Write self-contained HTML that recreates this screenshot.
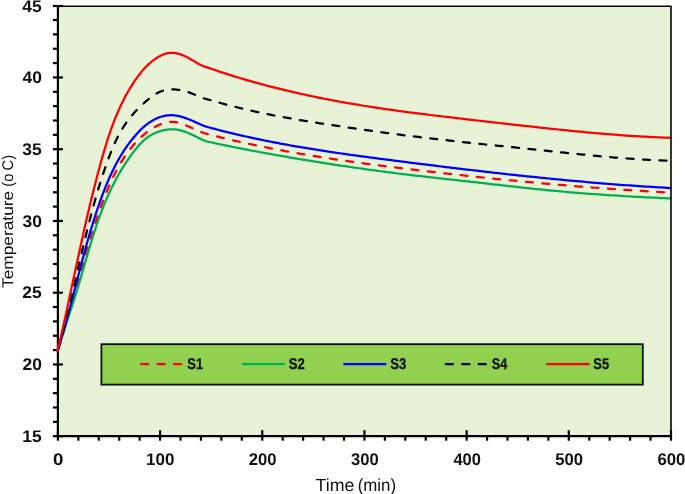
<!DOCTYPE html>
<html><head><meta charset="utf-8"><style>
html,body{margin:0;padding:0;background:#fff;}
body{width:685px;height:494px;overflow:hidden;}
svg{display:block;will-change:transform;text-rendering:geometricPrecision;font-family:"Liberation Sans",sans-serif;}
</style></head><body>
<svg width="685" height="494" viewBox="0 0 685 494">
<rect x="57.90" y="5.70" width="613.08" height="430.50" fill="#E8F2D6"/>
<line x1="57.90" y1="5.00" x2="57.90" y2="437.20" stroke="#000" stroke-width="2.2"/>
<line x1="56.90" y1="436.20" x2="671.78" y2="436.20" stroke="#000" stroke-width="2.3"/>
<line x1="52.90" y1="436.20" x2="62.90" y2="436.20" stroke="#000" stroke-width="2.2"/>
<line x1="52.90" y1="421.85" x2="57.90" y2="421.85" stroke="#000" stroke-width="2.2"/>
<line x1="52.90" y1="407.50" x2="57.90" y2="407.50" stroke="#000" stroke-width="2.2"/>
<line x1="52.90" y1="393.15" x2="57.90" y2="393.15" stroke="#000" stroke-width="2.2"/>
<line x1="52.90" y1="378.80" x2="57.90" y2="378.80" stroke="#000" stroke-width="2.2"/>
<line x1="52.90" y1="364.45" x2="62.90" y2="364.45" stroke="#000" stroke-width="2.2"/>
<line x1="52.90" y1="350.10" x2="57.90" y2="350.10" stroke="#000" stroke-width="2.2"/>
<line x1="52.90" y1="335.75" x2="57.90" y2="335.75" stroke="#000" stroke-width="2.2"/>
<line x1="52.90" y1="321.40" x2="57.90" y2="321.40" stroke="#000" stroke-width="2.2"/>
<line x1="52.90" y1="307.05" x2="57.90" y2="307.05" stroke="#000" stroke-width="2.2"/>
<line x1="52.90" y1="292.70" x2="62.90" y2="292.70" stroke="#000" stroke-width="2.2"/>
<line x1="52.90" y1="278.35" x2="57.90" y2="278.35" stroke="#000" stroke-width="2.2"/>
<line x1="52.90" y1="264.00" x2="57.90" y2="264.00" stroke="#000" stroke-width="2.2"/>
<line x1="52.90" y1="249.65" x2="57.90" y2="249.65" stroke="#000" stroke-width="2.2"/>
<line x1="52.90" y1="235.30" x2="57.90" y2="235.30" stroke="#000" stroke-width="2.2"/>
<line x1="52.90" y1="220.95" x2="62.90" y2="220.95" stroke="#000" stroke-width="2.2"/>
<line x1="52.90" y1="206.60" x2="57.90" y2="206.60" stroke="#000" stroke-width="2.2"/>
<line x1="52.90" y1="192.25" x2="57.90" y2="192.25" stroke="#000" stroke-width="2.2"/>
<line x1="52.90" y1="177.90" x2="57.90" y2="177.90" stroke="#000" stroke-width="2.2"/>
<line x1="52.90" y1="163.55" x2="57.90" y2="163.55" stroke="#000" stroke-width="2.2"/>
<line x1="52.90" y1="149.20" x2="62.90" y2="149.20" stroke="#000" stroke-width="2.2"/>
<line x1="52.90" y1="134.85" x2="57.90" y2="134.85" stroke="#000" stroke-width="2.2"/>
<line x1="52.90" y1="120.50" x2="57.90" y2="120.50" stroke="#000" stroke-width="2.2"/>
<line x1="52.90" y1="106.15" x2="57.90" y2="106.15" stroke="#000" stroke-width="2.2"/>
<line x1="52.90" y1="91.80" x2="57.90" y2="91.80" stroke="#000" stroke-width="2.2"/>
<line x1="52.90" y1="77.45" x2="62.90" y2="77.45" stroke="#000" stroke-width="2.2"/>
<line x1="52.90" y1="63.10" x2="57.90" y2="63.10" stroke="#000" stroke-width="2.2"/>
<line x1="52.90" y1="48.75" x2="57.90" y2="48.75" stroke="#000" stroke-width="2.2"/>
<line x1="52.90" y1="34.40" x2="57.90" y2="34.40" stroke="#000" stroke-width="2.2"/>
<line x1="52.90" y1="20.05" x2="57.90" y2="20.05" stroke="#000" stroke-width="2.2"/>
<line x1="52.90" y1="6.00" x2="62.90" y2="6.00" stroke="#000" stroke-width="2.2"/>
<line x1="57.90" y1="430.20" x2="57.90" y2="440.70" stroke="#000" stroke-width="2.2"/>
<line x1="78.34" y1="436.20" x2="78.34" y2="440.70" stroke="#000" stroke-width="2.2"/>
<line x1="98.77" y1="436.20" x2="98.77" y2="440.70" stroke="#000" stroke-width="2.2"/>
<line x1="119.21" y1="436.20" x2="119.21" y2="440.70" stroke="#000" stroke-width="2.2"/>
<line x1="139.64" y1="436.20" x2="139.64" y2="440.70" stroke="#000" stroke-width="2.2"/>
<line x1="160.08" y1="430.20" x2="160.08" y2="440.70" stroke="#000" stroke-width="2.2"/>
<line x1="180.52" y1="436.20" x2="180.52" y2="440.70" stroke="#000" stroke-width="2.2"/>
<line x1="200.95" y1="436.20" x2="200.95" y2="440.70" stroke="#000" stroke-width="2.2"/>
<line x1="221.39" y1="436.20" x2="221.39" y2="440.70" stroke="#000" stroke-width="2.2"/>
<line x1="241.82" y1="436.20" x2="241.82" y2="440.70" stroke="#000" stroke-width="2.2"/>
<line x1="262.26" y1="430.20" x2="262.26" y2="440.70" stroke="#000" stroke-width="2.2"/>
<line x1="282.70" y1="436.20" x2="282.70" y2="440.70" stroke="#000" stroke-width="2.2"/>
<line x1="303.13" y1="436.20" x2="303.13" y2="440.70" stroke="#000" stroke-width="2.2"/>
<line x1="323.57" y1="436.20" x2="323.57" y2="440.70" stroke="#000" stroke-width="2.2"/>
<line x1="344.00" y1="436.20" x2="344.00" y2="440.70" stroke="#000" stroke-width="2.2"/>
<line x1="364.44" y1="430.20" x2="364.44" y2="440.70" stroke="#000" stroke-width="2.2"/>
<line x1="384.88" y1="436.20" x2="384.88" y2="440.70" stroke="#000" stroke-width="2.2"/>
<line x1="405.31" y1="436.20" x2="405.31" y2="440.70" stroke="#000" stroke-width="2.2"/>
<line x1="425.75" y1="436.20" x2="425.75" y2="440.70" stroke="#000" stroke-width="2.2"/>
<line x1="446.18" y1="436.20" x2="446.18" y2="440.70" stroke="#000" stroke-width="2.2"/>
<line x1="466.62" y1="430.20" x2="466.62" y2="440.70" stroke="#000" stroke-width="2.2"/>
<line x1="487.06" y1="436.20" x2="487.06" y2="440.70" stroke="#000" stroke-width="2.2"/>
<line x1="507.49" y1="436.20" x2="507.49" y2="440.70" stroke="#000" stroke-width="2.2"/>
<line x1="527.93" y1="436.20" x2="527.93" y2="440.70" stroke="#000" stroke-width="2.2"/>
<line x1="548.36" y1="436.20" x2="548.36" y2="440.70" stroke="#000" stroke-width="2.2"/>
<line x1="568.80" y1="430.20" x2="568.80" y2="440.70" stroke="#000" stroke-width="2.2"/>
<line x1="589.24" y1="436.20" x2="589.24" y2="440.70" stroke="#000" stroke-width="2.2"/>
<line x1="609.67" y1="436.20" x2="609.67" y2="440.70" stroke="#000" stroke-width="2.2"/>
<line x1="630.11" y1="436.20" x2="630.11" y2="440.70" stroke="#000" stroke-width="2.2"/>
<line x1="650.54" y1="436.20" x2="650.54" y2="440.70" stroke="#000" stroke-width="2.2"/>
<line x1="670.98" y1="430.20" x2="670.98" y2="440.70" stroke="#000" stroke-width="2.2"/>
<path d="M57.70,350.50 58.30,348.71 58.89,346.92 59.48,345.13 60.06,343.34 60.64,341.54 61.21,339.74 61.78,337.95 62.34,336.15 62.90,334.34 63.46,332.54 64.01,330.74 64.56,328.93 65.10,327.13 65.65,325.32 66.18,323.51 66.72,321.70 67.25,319.89 67.78,318.07 68.31,316.26 68.84,314.45 69.36,312.63 69.88,310.82 70.40,309.00 70.91,307.18 71.43,305.36 71.94,303.55 72.45,301.73 72.96,299.91 73.47,298.09 73.98,296.27 74.49,294.45 74.99,292.63 75.50,290.80 76.00,288.98 76.51,287.16 77.01,285.34 77.52,283.52 78.02,281.70 78.53,279.88 79.03,278.05 79.54,276.23 80.05,274.41 80.55,272.59 81.06,270.77 81.57,268.95 82.08,267.13 82.60,265.31 83.11,263.49 83.63,261.67 84.15,259.86 84.67,258.04 85.19,256.22 85.71,254.41 86.24,252.59 86.77,250.78 87.30,248.97 87.84,247.16 88.37,245.35 88.92,243.54 89.46,241.73 90.01,239.92 90.56,238.11 91.12,236.31 91.68,234.51 92.24,232.70 92.81,230.90 93.38,229.11 93.96,227.31 94.54,225.51 95.13,223.72 95.72,221.93 96.32,220.13 96.92,218.35 97.52,216.56 98.14,214.77 98.76,212.99 99.38,211.21 100.01,209.43 100.65,207.65 101.29,205.88 101.94,204.10 102.59,202.33 103.26,200.57 103.92,198.80 104.60,197.04 105.29,195.28 105.98,193.52 106.68,191.77 107.40,190.02 108.12,188.28 108.86,186.54 109.60,184.81 110.36,183.09 111.14,181.37 111.92,179.66 112.72,177.95 113.54,176.25 114.37,174.57 115.22,172.89 116.08,171.21 116.96,169.55 117.86,167.90 118.78,166.26 119.71,164.63 120.67,163.01 121.65,161.40 122.65,159.80 123.66,158.22 124.71,156.65 125.77,155.09 126.86,153.54 127.97,152.01 129.11,150.49 130.27,148.99 131.46,147.50 132.67,146.03 133.91,144.58 135.18,143.14 136.47,141.73 137.79,140.34 139.14,138.99 140.52,137.65 141.92,136.36 143.36,135.09 144.82,133.86 146.30,132.67 147.82,131.52 149.36,130.42 150.94,129.36 152.54,128.35 154.17,127.38 155.83,126.47 157.52,125.62 159.24,124.82 160.98,124.10 162.74,123.46 164.53,122.91 166.32,122.46 168.13,122.13 169.94,121.93 171.76,121.86 173.57,121.93 175.39,122.13 177.21,122.46 179.03,122.89 180.84,123.42 182.65,124.03 184.45,124.70 186.25,125.43 188.05,126.21 189.83,127.02 191.62,127.84 193.39,128.66 195.15,129.48 196.90,130.28 198.65,131.04 200.38,131.76 202.09,132.42 203.80,133.00 206.93,133.83 210.06,134.66 213.20,135.46 216.33,136.26 219.46,137.04 222.59,137.81 225.73,138.57 228.86,139.32 231.99,140.06 235.12,140.79 238.25,141.50 241.39,142.20 244.52,142.90 247.65,143.58 250.78,144.25 253.92,144.92 257.05,145.57 260.18,146.21 263.31,146.85 266.44,147.47 269.58,148.09 272.71,148.70 275.84,149.30 278.97,149.89 282.11,150.47 285.24,151.04 288.37,151.61 291.50,152.17 294.63,152.72 297.77,153.27 300.90,153.81 304.03,154.34 307.16,154.86 310.30,155.38 313.43,155.89 316.56,156.40 319.69,156.90 322.82,157.40 325.96,157.88 329.09,158.37 332.22,158.84 335.35,159.32 338.49,159.78 341.62,160.24 344.75,160.70 347.88,161.15 351.01,161.60 354.15,162.04 357.28,162.48 360.41,162.91 363.54,163.34 366.68,163.77 369.81,164.19 372.94,164.60 376.07,165.02 379.20,165.43 382.34,165.83 385.47,166.23 388.60,166.63 391.73,167.03 394.87,167.42 398.00,167.81 401.13,168.20 404.26,168.59 407.39,168.97 410.53,169.35 413.66,169.73 416.79,170.10 419.92,170.48 423.06,170.85 426.19,171.22 429.32,171.59 432.45,171.95 435.58,172.32 438.72,172.68 441.85,173.04 444.98,173.39 448.11,173.75 451.24,174.10 454.38,174.45 457.51,174.80 460.64,175.15 463.77,175.49 466.91,175.83 470.04,176.17 473.17,176.51 476.30,176.84 479.43,177.17 482.57,177.50 485.70,177.83 488.83,178.16 491.96,178.48 495.10,178.80 498.23,179.12 501.36,179.44 504.49,179.75 507.62,180.06 510.76,180.37 513.89,180.68 517.02,180.98 520.15,181.28 523.29,181.58 526.42,181.88 529.55,182.17 532.68,182.46 535.81,182.75 538.95,183.04 542.08,183.32 545.21,183.60 548.34,183.88 551.48,184.16 554.61,184.43 557.74,184.70 560.87,184.97 564.00,185.24 567.14,185.50 570.27,185.76 573.40,186.02 576.53,186.27 579.67,186.52 582.80,186.77 585.93,187.02 589.06,187.26 592.19,187.51 595.33,187.75 598.46,187.98 601.59,188.21 604.72,188.44 607.86,188.67 610.99,188.90 614.12,189.12 617.25,189.34 620.38,189.55 623.52,189.77 626.65,189.98 629.78,190.18 632.91,190.39 636.05,190.59 639.18,190.79 642.31,190.98 645.44,191.18 648.57,191.37 651.71,191.55 654.84,191.74 657.97,191.92 661.10,192.10 664.24,192.27 667.37,192.44 670.50,192.61" fill="none" stroke="#FF0000" stroke-width="2.25" stroke-linejoin="round" stroke-linecap="round" stroke-dasharray="7.0,9.45" stroke-dashoffset="-1.5"/>
<path d="M57.70,350.50 58.24,348.71 58.79,346.91 59.34,345.13 59.89,343.34 60.45,341.56 61.02,339.77 61.58,337.99 62.15,336.22 62.72,334.44 63.30,332.67 63.88,330.89 64.45,329.12 65.03,327.35 65.62,325.58 66.20,323.81 66.78,322.05 67.37,320.28 67.95,318.51 68.53,316.74 69.12,314.98 69.70,313.21 70.28,311.44 70.86,309.67 71.44,307.91 72.01,306.14 72.59,304.37 73.16,302.60 73.73,300.82 74.29,299.05 74.85,297.27 75.41,295.50 75.97,293.72 76.52,291.94 77.06,290.15 77.60,288.37 78.14,286.58 78.67,284.79 79.21,283.00 79.73,281.21 80.26,279.42 80.78,277.63 81.31,275.83 81.83,274.04 82.35,272.24 82.86,270.45 83.38,268.65 83.90,266.85 84.42,265.06 84.93,263.26 85.45,261.46 85.97,259.66 86.49,257.87 87.01,256.07 87.53,254.28 88.06,252.48 88.59,250.69 89.12,248.90 89.65,247.10 90.19,245.31 90.73,243.52 91.27,241.74 91.82,239.95 92.37,238.17 92.93,236.39 93.49,234.61 94.06,232.83 94.63,231.05 95.21,229.28 95.79,227.51 96.38,225.74 96.98,223.98 97.59,222.21 98.20,220.46 98.82,218.70 99.45,216.95 100.09,215.20 100.73,213.45 101.39,211.71 102.05,209.97 102.73,208.24 103.41,206.51 104.10,204.79 104.81,203.07 105.52,201.35 106.25,199.64 106.98,197.93 107.73,196.23 108.49,194.53 109.26,192.84 110.05,191.15 110.84,189.47 111.65,187.80 112.47,186.13 113.31,184.47 114.16,182.81 115.02,181.16 115.89,179.51 116.78,177.88 117.68,176.25 118.60,174.62 119.53,173.00 120.48,171.39 121.44,169.79 122.41,168.19 123.40,166.61 124.41,165.03 125.43,163.45 126.47,161.89 127.52,160.33 128.59,158.78 129.67,157.25 130.78,155.71 131.90,154.19 133.03,152.68 134.19,151.17 135.36,149.68 136.55,148.20 137.77,146.73 139.01,145.30 140.28,143.90 141.58,142.53 142.93,141.22 144.31,139.95 145.74,138.75 147.21,137.61 148.73,136.53 150.29,135.53 151.89,134.60 153.52,133.73 155.19,132.94 156.88,132.23 158.60,131.59 160.35,131.02 162.12,130.54 163.90,130.14 165.71,129.82 167.52,129.58 169.34,129.42 171.17,129.36 173.01,129.38 174.84,129.49 176.67,129.69 178.50,129.98 180.32,130.37 182.13,130.85 183.93,131.41 185.72,132.04 187.50,132.73 189.27,133.47 191.02,134.26 192.77,135.07 194.50,135.89 196.22,136.73 197.93,137.56 199.63,138.38 201.32,139.17 202.99,139.93 204.65,140.64 206.30,141.30 209.42,141.99 212.53,142.68 215.65,143.35 218.76,144.02 221.88,144.67 224.99,145.32 228.11,145.97 231.22,146.60 234.34,147.23 237.45,147.85 240.57,148.46 243.69,149.07 246.80,149.67 249.92,150.26 253.03,150.85 256.15,151.43 259.26,152.01 262.38,152.58 265.49,153.14 268.61,153.70 271.72,154.26 274.84,154.81 277.96,155.36 281.07,155.91 284.19,156.45 287.30,156.98 290.42,157.52 293.53,158.05 296.65,158.57 299.76,159.09 302.88,159.61 305.99,160.13 309.11,160.64 312.22,161.14 315.34,161.64 318.46,162.14 321.57,162.64 324.69,163.13 327.80,163.61 330.92,164.10 334.03,164.57 337.15,165.05 340.26,165.52 343.38,165.99 346.49,166.45 349.61,166.91 352.73,167.36 355.84,167.81 358.96,168.25 362.07,168.69 365.19,169.13 368.30,169.56 371.42,169.99 374.53,170.41 377.65,170.83 380.76,171.25 383.88,171.66 387.00,172.06 390.11,172.46 393.23,172.86 396.34,173.25 399.46,173.64 402.57,174.02 405.69,174.40 408.80,174.78 411.92,175.15 415.03,175.52 418.15,175.88 421.27,176.24 424.38,176.60 427.50,176.95 430.61,177.31 433.73,177.66 436.84,178.01 439.96,178.35 443.07,178.70 446.19,179.04 449.30,179.39 452.42,179.73 455.53,180.08 458.65,180.42 461.77,180.76 464.88,181.11 468.00,181.45 471.11,181.80 474.23,182.14 477.34,182.49 480.46,182.84 483.57,183.19 486.69,183.55 489.80,183.90 492.92,184.26 496.04,184.61 499.15,184.97 502.27,185.32 505.38,185.68 508.50,186.03 511.61,186.38 514.73,186.73 517.84,187.08 520.96,187.42 524.07,187.76 527.19,188.10 530.31,188.43 533.42,188.76 536.54,189.08 539.65,189.40 542.77,189.71 545.88,190.02 549.00,190.32 552.11,190.62 555.23,190.91 558.34,191.19 561.46,191.47 564.58,191.75 567.69,192.02 570.81,192.28 573.92,192.54 577.04,192.80 580.15,193.05 583.27,193.29 586.38,193.53 589.50,193.77 592.61,194.00 595.73,194.22 598.84,194.44 601.96,194.66 605.08,194.87 608.19,195.08 611.31,195.29 614.42,195.49 617.54,195.68 620.65,195.87 623.77,196.06 626.88,196.25 630.00,196.43 633.11,196.60 636.23,196.77 639.35,196.94 642.46,197.11 645.58,197.27 648.69,197.43 651.81,197.59 654.92,197.74 658.04,197.90 661.15,198.05 664.27,198.20 667.38,198.34 670.50,198.49" fill="none" stroke="#00B050" stroke-width="2.25" stroke-linejoin="round" stroke-linecap="round"/>
<path d="M57.70,350.50 58.28,348.65 58.86,346.79 59.44,344.94 60.00,343.08 60.57,341.22 61.12,339.36 61.68,337.49 62.23,335.63 62.77,333.76 63.31,331.90 63.84,330.03 64.38,328.16 64.90,326.29 65.43,324.42 65.95,322.55 66.46,320.67 66.98,318.80 67.49,316.92 68.00,315.05 68.50,313.17 69.01,311.29 69.51,309.41 70.01,307.53 70.50,305.65 71.00,303.77 71.49,301.89 71.98,300.01 72.47,298.13 72.96,296.25 73.45,294.37 73.94,292.49 74.42,290.60 74.91,288.72 75.39,286.84 75.88,284.95 76.37,283.07 76.85,281.19 77.34,279.31 77.82,277.42 78.31,275.54 78.80,273.66 79.29,271.78 79.78,269.90 80.27,268.01 80.76,266.13 81.26,264.25 81.76,262.37 82.25,260.49 82.75,258.62 83.26,256.74 83.76,254.86 84.27,252.99 84.78,251.11 85.30,249.24 85.81,247.36 86.33,245.49 86.86,243.62 87.39,241.75 87.92,239.88 88.45,238.01 88.99,236.14 89.54,234.28 90.09,232.42 90.64,230.55 91.20,228.69 91.76,226.83 92.33,224.97 92.90,223.12 93.48,221.26 94.06,219.41 94.65,217.56 95.25,215.71 95.85,213.86 96.46,212.01 97.08,210.17 97.70,208.33 98.33,206.49 98.96,204.65 99.61,202.81 100.26,200.98 100.91,199.15 101.58,197.32 102.25,195.49 102.94,193.67 103.63,191.85 104.33,190.04 105.04,188.23 105.77,186.42 106.50,184.62 107.25,182.83 108.00,181.04 108.78,179.25 109.56,177.48 110.36,175.71 111.17,173.94 111.99,172.19 112.83,170.44 113.69,168.70 114.56,166.97 115.45,165.25 116.35,163.54 117.28,161.83 118.22,160.14 119.17,158.46 120.15,156.79 121.15,155.12 122.16,153.47 123.20,151.84 124.25,150.21 125.33,148.60 126.43,147.00 127.55,145.41 128.69,143.84 129.85,142.28 131.04,140.73 132.25,139.20 133.49,137.68 134.75,136.18 136.03,134.70 137.35,133.23 138.69,131.79 140.06,130.38 141.46,129.00 142.90,127.67 144.37,126.37 145.88,125.12 147.42,123.92 149.01,122.78 150.63,121.69 152.30,120.68 154.00,119.73 155.73,118.86 157.50,118.06 159.29,117.36 161.10,116.74 162.94,116.22 164.79,115.80 166.66,115.48 168.54,115.28 170.42,115.18 172.32,115.21 174.22,115.35 176.12,115.59 178.02,115.93 179.91,116.35 181.81,116.86 183.69,117.43 185.57,118.07 187.44,118.76 189.29,119.50 191.13,120.27 192.96,121.07 194.78,121.89 196.58,122.70 198.37,123.51 200.14,124.30 201.91,125.05 203.66,125.75 205.40,126.40 208.52,127.26 211.64,128.10 214.76,128.93 217.89,129.74 221.01,130.54 224.13,131.33 227.25,132.11 230.37,132.87 233.49,133.62 236.61,134.36 239.74,135.09 242.86,135.80 245.98,136.50 249.10,137.19 252.22,137.88 255.34,138.54 258.47,139.20 261.59,139.85 264.71,140.49 267.83,141.12 270.95,141.73 274.07,142.34 277.19,142.94 280.32,143.53 283.44,144.11 286.56,144.68 289.68,145.24 292.80,145.80 295.92,146.34 299.04,146.88 302.17,147.41 305.29,147.94 308.41,148.45 311.53,148.96 314.65,149.46 317.77,149.96 320.89,150.45 324.02,150.93 327.14,151.40 330.26,151.87 333.38,152.34 336.50,152.80 339.62,153.25 342.74,153.70 345.87,154.15 348.99,154.59 352.11,155.02 355.23,155.45 358.35,155.88 361.47,156.31 364.60,156.73 367.72,157.14 370.84,157.56 373.96,157.97 377.08,158.38 380.20,158.78 383.32,159.19 386.45,159.59 389.57,159.99 392.69,160.39 395.81,160.79 398.93,161.18 402.05,161.58 405.17,161.98 408.30,162.37 411.42,162.76 414.54,163.15 417.66,163.55 420.78,163.94 423.90,164.32 427.02,164.71 430.15,165.10 433.27,165.48 436.39,165.87 439.51,166.25 442.63,166.63 445.75,167.01 448.88,167.39 452.00,167.77 455.12,168.14 458.24,168.52 461.36,168.89 464.48,169.26 467.60,169.63 470.73,170.00 473.85,170.36 476.97,170.73 480.09,171.09 483.21,171.45 486.33,171.81 489.45,172.16 492.58,172.52 495.70,172.87 498.82,173.22 501.94,173.57 505.06,173.92 508.18,174.26 511.30,174.60 514.43,174.94 517.55,175.28 520.67,175.61 523.79,175.94 526.91,176.27 530.03,176.60 533.16,176.92 536.28,177.24 539.40,177.56 542.52,177.88 545.64,178.19 548.76,178.50 551.88,178.81 555.01,179.12 558.13,179.42 561.25,179.72 564.37,180.01 567.49,180.31 570.61,180.60 573.73,180.88 576.86,181.17 579.98,181.45 583.10,181.73 586.22,182.00 589.34,182.27 592.46,182.54 595.58,182.80 598.71,183.07 601.83,183.32 604.95,183.58 608.07,183.83 611.19,184.07 614.31,184.32 617.43,184.56 620.56,184.79 623.68,185.02 626.80,185.25 629.92,185.48 633.04,185.70 636.16,185.91 639.29,186.12 642.41,186.33 645.53,186.54 648.65,186.74 651.77,186.93 654.89,187.12 658.01,187.31 661.14,187.49 664.26,187.67 667.38,187.85 670.50,188.02" fill="none" stroke="#0000FF" stroke-width="2.25" stroke-linejoin="round" stroke-linecap="round"/>
<path d="M57.70,350.50 58.28,348.48 58.85,346.46 59.42,344.44 59.98,342.41 60.54,340.39 61.09,338.36 61.63,336.34 62.17,334.31 62.71,332.28 63.24,330.25 63.77,328.22 64.29,326.19 64.81,324.16 65.33,322.12 65.84,320.09 66.35,318.05 66.86,316.02 67.36,313.98 67.86,311.95 68.35,309.91 68.85,307.87 69.34,305.84 69.82,303.80 70.31,301.76 70.79,299.72 71.28,297.68 71.75,295.64 72.23,293.60 72.71,291.56 73.18,289.52 73.66,287.48 74.13,285.43 74.60,283.39 75.08,281.35 75.55,279.31 76.02,277.27 76.49,275.23 76.96,273.18 77.43,271.14 77.90,269.10 78.37,267.06 78.84,265.02 79.31,262.98 79.78,260.94 80.26,258.90 80.73,256.86 81.21,254.82 81.69,252.78 82.16,250.74 82.65,248.70 83.13,246.66 83.61,244.62 84.10,242.59 84.59,240.55 85.08,238.52 85.58,236.48 86.08,234.45 86.58,232.41 87.08,230.38 87.59,228.35 88.10,226.31 88.61,224.28 89.13,222.25 89.66,220.23 90.18,218.20 90.71,216.17 91.25,214.14 91.79,212.12 92.33,210.10 92.88,208.07 93.44,206.05 94.00,204.03 94.56,202.01 95.13,199.99 95.71,197.98 96.29,195.96 96.88,193.95 97.47,191.94 98.08,189.93 98.68,187.92 99.30,185.91 99.92,183.90 100.55,181.90 101.18,179.89 101.82,177.89 102.47,175.89 103.13,173.89 103.79,171.89 104.47,169.90 105.15,167.91 105.84,165.92 106.53,163.93 107.24,161.94 107.96,159.96 108.69,157.98 109.43,156.00 110.18,154.04 110.95,152.08 111.74,150.13 112.55,148.18 113.37,146.25 114.22,144.33 115.08,142.43 115.97,140.53 116.88,138.66 117.82,136.79 118.79,134.95 119.78,133.12 120.80,131.31 121.85,129.52 122.93,127.75 124.05,126.00 125.20,124.28 126.38,122.58 127.60,120.90 128.86,119.25 130.14,117.62 131.47,116.01 132.82,114.42 134.21,112.86 135.63,111.31 137.08,109.78 138.56,108.27 140.07,106.77 141.61,105.30 143.17,103.83 144.77,102.39 146.38,100.95 148.03,99.54 149.70,98.16 151.41,96.84 153.15,95.59 154.92,94.42 156.73,93.35 158.57,92.40 160.46,91.58 162.38,90.90 164.34,90.35 166.33,89.93 168.35,89.63 170.38,89.46 172.44,89.40 174.51,89.44 176.59,89.59 178.67,89.84 180.75,90.19 182.83,90.62 184.90,91.14 186.96,91.74 189.00,92.41 191.02,93.15 193.02,93.96 195.00,94.81 196.96,95.66 198.91,96.50 200.85,97.30 202.79,98.01 204.74,98.62 206.70,99.10 209.81,100.01 212.93,100.91 216.04,101.79 219.15,102.65 222.26,103.50 225.38,104.33 228.49,105.15 231.60,105.95 234.71,106.74 237.83,107.51 240.94,108.27 244.05,109.01 247.17,109.74 250.28,110.45 253.39,111.15 256.50,111.83 259.62,112.50 262.73,113.16 265.84,113.80 268.96,114.43 272.07,115.05 275.18,115.65 278.29,116.24 281.41,116.82 284.52,117.39 287.63,117.94 290.74,118.49 293.86,119.02 296.97,119.55 300.08,120.07 303.20,120.58 306.31,121.09 309.42,121.59 312.53,122.08 315.65,122.57 318.76,123.06 321.87,123.54 324.98,124.01 328.10,124.49 331.21,124.96 334.32,125.44 337.44,125.91 340.55,126.38 343.66,126.85 346.77,127.31 349.89,127.77 353.00,128.23 356.11,128.69 359.22,129.14 362.34,129.59 365.45,130.04 368.56,130.48 371.68,130.92 374.79,131.36 377.90,131.79 381.01,132.21 384.13,132.63 387.24,133.05 390.35,133.46 393.47,133.87 396.58,134.27 399.69,134.66 402.80,135.06 405.92,135.45 409.03,135.83 412.14,136.22 415.25,136.59 418.37,136.97 421.48,137.34 424.59,137.71 427.71,138.08 430.82,138.44 433.93,138.80 437.04,139.16 440.16,139.51 443.27,139.86 446.38,140.21 449.49,140.56 452.61,140.90 455.72,141.25 458.83,141.59 461.95,141.93 465.06,142.26 468.17,142.60 471.28,142.93 474.40,143.27 477.51,143.60 480.62,143.93 483.73,144.25 486.85,144.58 489.96,144.91 493.07,145.23 496.19,145.56 499.30,145.88 502.41,146.20 505.52,146.53 508.64,146.85 511.75,147.17 514.86,147.49 517.98,147.81 521.09,148.13 524.20,148.46 527.31,148.78 530.43,149.10 533.54,149.42 536.65,149.74 539.76,150.07 542.88,150.39 545.99,150.72 549.10,151.04 552.22,151.37 555.33,151.70 558.44,152.03 561.55,152.35 564.67,152.68 567.78,153.01 570.89,153.33 574.00,153.65 577.12,153.97 580.23,154.29 583.34,154.61 586.46,154.92 589.57,155.23 592.68,155.53 595.79,155.83 598.91,156.13 602.02,156.42 605.13,156.70 608.24,156.98 611.36,157.25 614.47,157.52 617.58,157.77 620.70,158.02 623.81,158.27 626.92,158.50 630.03,158.73 633.15,158.94 636.26,159.15 639.37,159.35 642.49,159.53 645.60,159.71 648.71,159.88 651.82,160.03 654.94,160.17 658.05,160.30 661.16,160.42 664.27,160.52 667.39,160.62 670.50,160.69" fill="none" stroke="#000000" stroke-width="2.25" stroke-linejoin="round" stroke-linecap="round" stroke-dasharray="7.0,9.45" stroke-dashoffset="-1.5"/>
<path d="M57.70,350.50 58.23,348.25 58.75,346.00 59.27,343.74 59.79,341.49 60.30,339.24 60.82,336.98 61.33,334.73 61.84,332.48 62.34,330.22 62.85,327.97 63.35,325.71 63.85,323.45 64.35,321.20 64.85,318.94 65.34,316.68 65.84,314.42 66.33,312.17 66.82,309.91 67.31,307.65 67.80,305.39 68.29,303.13 68.78,300.88 69.26,298.62 69.75,296.36 70.23,294.10 70.72,291.84 71.20,289.58 71.69,287.32 72.17,285.06 72.65,282.80 73.14,280.54 73.62,278.28 74.10,276.02 74.59,273.76 75.07,271.50 75.56,269.25 76.04,266.99 76.53,264.73 77.02,262.47 77.50,260.21 77.99,257.95 78.48,255.69 78.97,253.44 79.46,251.18 79.96,248.92 80.45,246.66 80.95,244.41 81.44,242.15 81.94,239.90 82.44,237.64 82.94,235.38 83.45,233.13 83.95,230.88 84.46,228.62 84.97,226.37 85.49,224.11 86.00,221.86 86.52,219.61 87.04,217.36 87.56,215.11 88.09,212.86 88.62,210.61 89.15,208.36 89.68,206.11 90.22,203.86 90.76,201.61 91.31,199.37 91.86,197.12 92.41,194.88 92.96,192.63 93.52,190.39 94.08,188.15 94.65,185.90 95.22,183.66 95.80,181.42 96.37,179.18 96.96,176.95 97.54,174.71 98.14,172.47 98.73,170.24 99.33,168.00 99.94,165.77 100.55,163.53 101.17,161.30 101.79,159.07 102.42,156.84 103.05,154.62 103.70,152.39 104.35,150.17 105.01,147.96 105.68,145.74 106.36,143.53 107.05,141.33 107.76,139.13 108.48,136.93 109.21,134.74 109.95,132.56 110.71,130.38 111.48,128.20 112.27,126.04 113.07,123.88 113.90,121.72 114.74,119.58 115.59,117.44 116.47,115.32 117.37,113.20 118.28,111.08 119.22,108.98 120.18,106.89 121.16,104.81 122.16,102.74 123.19,100.68 124.24,98.63 125.31,96.59 126.41,94.56 127.54,92.54 128.69,90.54 129.87,88.55 131.08,86.57 132.32,84.61 133.59,82.66 134.88,80.72 136.21,78.80 137.57,76.90 138.97,75.03 140.40,73.19 141.88,71.38 143.39,69.61 144.96,67.89 146.57,66.22 148.23,64.60 149.95,63.05 151.71,61.56 153.54,60.15 155.43,58.81 157.38,57.55 159.39,56.38 161.45,55.34 163.56,54.44 165.71,53.71 167.89,53.17 170.10,52.85 172.32,52.78 174.55,52.95 176.79,53.34 179.02,53.92 181.24,54.66 183.44,55.53 185.61,56.52 187.74,57.60 189.84,58.74 191.90,59.91 193.93,61.09 195.95,62.26 197.96,63.40 200.00,64.47 202.05,65.46 204.15,66.35 206.30,67.10 209.42,68.18 212.53,69.25 215.65,70.30 218.76,71.34 221.88,72.37 224.99,73.38 228.11,74.37 231.22,75.35 234.34,76.32 237.45,77.27 240.57,78.21 243.69,79.14 246.80,80.05 249.92,80.95 253.03,81.83 256.15,82.70 259.26,83.56 262.38,84.40 265.49,85.24 268.61,86.05 271.72,86.86 274.84,87.65 277.96,88.44 281.07,89.20 284.19,89.96 287.30,90.71 290.42,91.44 293.53,92.16 296.65,92.87 299.76,93.58 302.88,94.26 305.99,94.94 309.11,95.61 312.22,96.27 315.34,96.92 318.46,97.55 321.57,98.18 324.69,98.80 327.80,99.40 330.92,100.00 334.03,100.59 337.15,101.17 340.26,101.74 343.38,102.30 346.49,102.85 349.61,103.40 352.73,103.93 355.84,104.46 358.96,104.98 362.07,105.49 365.19,105.99 368.30,106.48 371.42,106.97 374.53,107.45 377.65,107.92 380.76,108.38 383.88,108.84 387.00,109.29 390.11,109.73 393.23,110.17 396.34,110.60 399.46,111.02 402.57,111.44 405.69,111.85 408.80,112.26 411.92,112.67 415.03,113.06 418.15,113.46 421.27,113.85 424.38,114.24 427.50,114.62 430.61,115.00 433.73,115.38 436.84,115.75 439.96,116.13 443.07,116.50 446.19,116.87 449.30,117.23 452.42,117.60 455.53,117.96 458.65,118.33 461.77,118.69 464.88,119.05 468.00,119.41 471.11,119.78 474.23,120.14 477.34,120.50 480.46,120.86 483.57,121.22 486.69,121.58 489.80,121.93 492.92,122.29 496.04,122.65 499.15,123.00 502.27,123.36 505.38,123.71 508.50,124.06 511.61,124.41 514.73,124.76 517.84,125.11 520.96,125.46 524.07,125.80 527.19,126.15 530.31,126.49 533.42,126.83 536.54,127.17 539.65,127.51 542.77,127.84 545.88,128.18 549.00,128.51 552.11,128.84 555.23,129.17 558.34,129.50 561.46,129.82 564.58,130.14 567.69,130.45 570.81,130.77 573.92,131.08 577.04,131.38 580.15,131.68 583.27,131.98 586.38,132.27 589.50,132.56 592.61,132.85 595.73,133.13 598.84,133.40 601.96,133.67 605.08,133.93 608.19,134.19 611.31,134.44 614.42,134.68 617.54,134.92 620.65,135.15 623.77,135.38 626.88,135.59 630.00,135.80 633.11,136.01 636.23,136.20 639.35,136.39 642.46,136.57 645.58,136.74 648.69,136.90 651.81,137.06 654.92,137.21 658.04,137.34 661.15,137.47 664.27,137.59 667.38,137.70 670.50,137.80" fill="none" stroke="#FF0000" stroke-width="2.25" stroke-linejoin="round" stroke-linecap="round"/>
<line x1="58.90" y1="6.25" x2="670.98" y2="6.25" stroke="#000" stroke-width="1.5"/>
<line x1="670.98" y1="5.70" x2="670.98" y2="436.20" stroke="#000" stroke-width="1.6"/>
<text transform="translate(22.31,442.05) scale(1.0300,1)" font-size="16.9" font-weight="bold" fill="#111">15</text>
<text transform="translate(22.57,370.05) scale(1.0300,1)" font-size="16.9" font-weight="bold" fill="#111">20</text>
<text transform="translate(22.31,298.30) scale(1.0300,1)" font-size="16.9" font-weight="bold" fill="#111">25</text>
<text transform="translate(22.57,226.55) scale(1.0300,1)" font-size="16.9" font-weight="bold" fill="#111">30</text>
<text transform="translate(22.31,154.80) scale(1.0300,1)" font-size="16.9" font-weight="bold" fill="#111">35</text>
<text transform="translate(22.57,83.05) scale(1.0300,1)" font-size="16.9" font-weight="bold" fill="#111">40</text>
<text transform="translate(22.31,11.55) scale(1.0300,1)" font-size="16.9" font-weight="bold" fill="#111">45</text>
<text transform="translate(53.08,464.60) scale(1.1025,1)" font-size="16.9" font-weight="bold" fill="#111">0</text>
<text transform="translate(146.03,464.60) scale(1.0057,1)" font-size="16.9" font-weight="bold" fill="#111">100</text>
<text transform="translate(248.73,464.60) scale(0.9868,1)" font-size="16.9" font-weight="bold" fill="#111">200</text>
<text transform="translate(351.08,464.60) scale(0.9807,1)" font-size="16.9" font-weight="bold" fill="#111">300</text>
<text transform="translate(453.42,464.60) scale(0.9746,1)" font-size="16.9" font-weight="bold" fill="#111">400</text>
<text transform="translate(555.35,464.60) scale(0.9837,1)" font-size="16.9" font-weight="bold" fill="#111">500</text>
<text transform="translate(657.45,464.60) scale(0.9868,1)" font-size="16.9" font-weight="bold" fill="#111">600</text>
<text transform="translate(315.56,490.80) scale(1.0159,1)" font-size="17.5" font-weight="normal" fill="#111">Time</text>
<text transform="translate(357.69,490.80) scale(0.9625,1)" font-size="17.5" font-weight="normal" fill="#111">(min)</text>
<text transform="translate(13.20,287.60) rotate(-90) translate(-0.43,0) scale(1.1170,1)" font-size="15.5" font-weight="normal" fill="#111">Temperature</text>
<text transform="translate(13.20,185.90) rotate(-90) translate(-0.89,0) scale(0.9534,1)" font-size="15.5" font-weight="normal" fill="#111">(o</text>
<text transform="translate(13.20,169.70) rotate(-90) translate(-0.74,0) scale(0.9490,1)" font-size="15.5" font-weight="normal" fill="#111">C)</text>
<rect x="101.4" y="344.2" width="541.40" height="40.40" fill="#92D050" stroke="#111" stroke-width="1.8"/>
<line x1="141.12" y1="364.2" x2="182.38" y2="364.2" stroke="#FF0000" stroke-width="2.25" stroke-linecap="round" stroke-dasharray="7.15,9.3"/>
<text transform="translate(187.26,369.15) scale(0.8416,1)" font-size="15.4" font-weight="bold" fill="#111" stroke="#111" stroke-width="0.3">S1</text>
<line x1="242.68" y1="364.2" x2="283.93" y2="364.2" stroke="#00B050" stroke-width="2.25" stroke-linecap="round"/>
<text transform="translate(288.76,369.15) scale(0.8489,1)" font-size="15.4" font-weight="bold" fill="#111" stroke="#111" stroke-width="0.3">S2</text>
<line x1="344.23" y1="364.2" x2="385.48" y2="364.2" stroke="#0000FF" stroke-width="2.25" stroke-linecap="round"/>
<text transform="translate(390.26,369.15) scale(0.8489,1)" font-size="15.4" font-weight="bold" fill="#111" stroke="#111" stroke-width="0.3">S3</text>
<line x1="445.77" y1="364.2" x2="487.02" y2="364.2" stroke="#000000" stroke-width="2.25" stroke-linecap="round" stroke-dasharray="7.15,9.3"/>
<text transform="translate(491.77,369.15) scale(0.8240,1)" font-size="15.4" font-weight="bold" fill="#111" stroke="#111" stroke-width="0.3">S4</text>
<line x1="547.33" y1="364.2" x2="588.58" y2="364.2" stroke="#FF0000" stroke-width="2.25" stroke-linecap="round"/>
<text transform="translate(593.26,369.15) scale(0.8416,1)" font-size="15.4" font-weight="bold" fill="#111" stroke="#111" stroke-width="0.3">S5</text>
</svg>
</body></html>
